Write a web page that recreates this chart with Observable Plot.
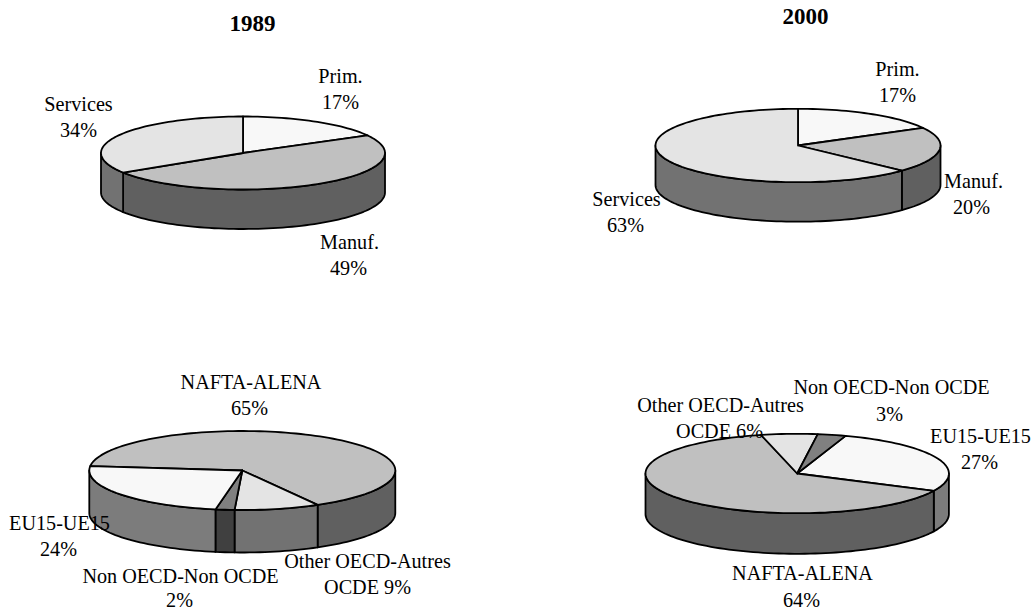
<!DOCTYPE html>
<html>
<head>
<meta charset="utf-8">
<style>html,body{margin:0;padding:0;background:#fff}svg{display:block}</style>
<script src="https://cdn.jsdelivr.net/npm/d3@7"></script>
<script src="https://cdn.jsdelivr.net/npm/@observablehq/plot@0.6"></script>
</head>
<body>
<script>
// Data: categories and shares (%), clockwise from the first slice
const categories1989 = ["Prim.", "Manuf.", "Services"];
const values1989 = [17, 49, 34];
const categories2000 = ["Prim.", "Manuf.", "Services"];
const values2000 = [17, 20, 63];
const regions1989 = ["NAFTA-ALENA", "Other OECD-Autres OCDE", "Non OECD-Non OCDE", "EU15-UE15"];
const regionValues1989 = [65, 9, 2, 24];
const regions2000 = ["EU15-UE15", "NAFTA-ALENA", "Other OECD-Autres OCDE", "Non OECD-Non OCDE"];
const regionValues2000 = [27, 64, 6, 3];
const titles = ["1989", "2000"];

// Style
const shade = {
  "Prim.": "#f8f8f8", "Manuf.": "#c0c0c0", "Services": "#e4e4e4",
  "NAFTA-ALENA": "#c0c0c0", "EU15-UE15": "#f8f8f8",
  "Other OECD-Autres OCDE": "#e4e4e4", "Non OECD-Non OCDE": "#808080"
};
const sideShade = {
  "#f8f8f8": "#7c7c7c", "#c0c0c0": "#606060", "#e4e4e4": "#727272", "#808080": "#404040"
};

// Layout of the four pies (pixel frame of the page)
const pies = [
  {id: "a", names: categories1989, values: values1989, cx: 242.5, cy: 152.5, rx: 142, ry: 36.5, depth: 39.5, start: 0},
  {id: "b", names: categories2000, values: values2000, cx: 797.5, cy: 145, rx: 142.5, ry: 36.7, depth: 39.5, start: 0},
  {id: "c", names: regions1989, values: regionValues1989, cx: 241.8, cy: 470, rx: 153, ry: 39.5, depth: 42.5, start: 276.5},
  {id: "d", names: regions2000, values: regionValues2000, cx: 796.7, cy: 473, rx: 151.7, ry: 39.7, depth: 40.6, start: 18.6}
];

// Label placement: [text, x, y]
const labelRows = [
  ["Prim.", 340, 76], [values1989[0] + "%", 340, 102],
  ["Services", 78, 104], [values1989[2] + "%", 78, 130],
  ["Manuf.", 349, 242], [values1989[1] + "%", 348, 268],
  ["Prim.", 897, 69], [values2000[0] + "%", 897, 95],
  ["Manuf.", 973, 181.5], [values2000[1] + "%", 971, 207],
  ["Services", 626, 199], [values2000[2] + "%", 625, 225],
  ["NAFTA-ALENA", 250.5, 382], [regionValues1989[0] + "%", 249, 408],
  ["EU15-UE15", 59, 523], [regionValues1989[3] + "%", 58, 549],
  ["Non OECD-Non OCDE", 180, 576], [regionValues1989[2] + "%", 179, 600],
  ["Other OECD-Autres", 367, 561], ["OCDE " + regionValues1989[1] + "%", 367, 587],
  ["Non OECD-Non OCDE", 891, 387], [regionValues2000[3] + "%", 889, 414],
  ["Other OECD-Autres", 720, 405], ["OCDE " + regionValues2000[2] + "%", 719, 431],
  ["EU15-UE15", 980, 436], [regionValues2000[0] + "%", 979, 462],
  ["NAFTA-ALENA", 802, 573], [regionValues2000[1] + "%", 801, 600]
].map(([text, x, y]) => ({text, x, y}));
const titleRows = [
  {text: titles[0], x: 252, y: 23},
  {text: titles[1], x: 805, y: 16}
];

// Geometry derived from the values
const rad = d => d * Math.PI / 180;
const onRim = (p, a, drop = 0) => ({
  x: p.cx + p.rx * Math.sin(rad(a)),
  y: p.cy - p.ry * Math.cos(rad(a)) + drop
});
const arc = (a, b) => {
  const n = Math.max(2, Math.ceil(Math.abs(b - a) / 2));
  return d3.range(n + 1).map(i => a + (b - a) * i / n);
};
const tops = [], sides = [];
for (const p of pies) {
  let a = p.start;
  p.values.forEach((v, i) => {
    const b = a + v * 3.6;
    const fill = shade[p.names[i]];
    const id = p.id + i;
    const pts = [{x: p.cx, y: p.cy}, ...arc(a, b).map(t => onRim(p, t)), {x: p.cx, y: p.cy}];
    pts.forEach(q => tops.push({...q, id, fill}));
    // Visible wall: the part of the slice on the front half of the rim
    for (const k of [-360, 0, 360]) {
      const lo = Math.max(a, 90 + k), hi = Math.min(b, 270 + k);
      if (hi > lo) {
        const ts = arc(lo, hi);
        const wall = [...ts.map(t => onRim(p, t)), ...ts.slice().reverse().map(t => onRim(p, t, p.depth))];
        wall.push(wall[0]);
        wall.forEach(q => sides.push({...q, id: id + "s" + k, fill: sideShade[fill]}));
      }
    }
    a = b;
  });
}

const face = {x: "x", y: "y", z: "id", fill: "fill", stroke: "#000", strokeWidth: 1.8, strokeLinejoin: "round", curve: "linear"};
const chart = Plot.plot({
  width: 1034,
  height: 611,
  margin: 0,
  style: {fontFamily: "'Liberation Serif', serif", background: "#fff"},
  x: {domain: [0, 1034], range: [0, 1034], axis: null},
  y: {domain: [0, 611], range: [0, 611], axis: null},
  color: {type: "identity"},
  marks: [
    Plot.line(sides, face),
    Plot.line(tops, face),
    Plot.text(labelRows, {x: "x", y: "y", text: "text", fontSize: 20.2, fill: "#000", textAnchor: "middle", lineAnchor: "middle"}),
    Plot.text(titleRows, {x: "x", y: "y", text: "text", fontSize: 23, fontWeight: "bold", fill: "#000", textAnchor: "middle", lineAnchor: "middle"})
  ]
});
document.body.appendChild(chart);
</script>
</body>
</html>
